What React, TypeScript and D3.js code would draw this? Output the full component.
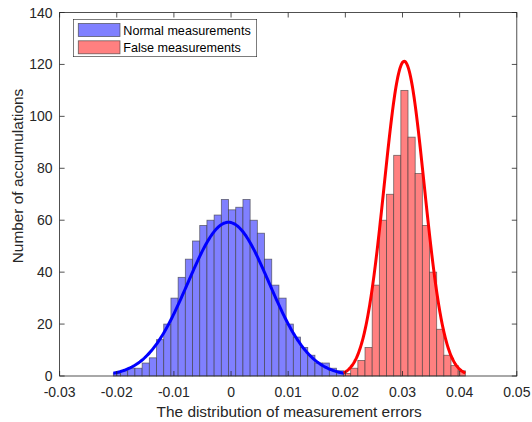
import React from "react";
import * as d3 from "d3";

// ---- data ----
const xTicks = [-0.03, -0.02, -0.01, 0, 0.01, 0.02, 0.03, 0.04, 0.05];
const yTicks = [0, 20, 40, 60, 80, 100, 120, 140];

const blueFirstEdge = -0.0206;
const blueBinWidth = 0.00126;
const blueCounts = [1, 2, 3, 3, 5, 7, 14, 20, 30, 38, 45, 52, 58, 60, 62, 68, 64, 65, 68, 60, 55, 45, 35, 30, 20, 15, 11, 8, 5, 5, 3, 2];

const redFirstEdge = 0.01968;
const redBinWidth = 0.001254;
const redCounts = [1, 3, 6, 11, 35, 60, 70, 85, 110, 92, 78, 58, 40, 18, 8, 4, 2];

// fitted normal curves (mean, std, peak height)
const blueFit = { mu: -0.00045, sigma: 0.0071, peak: 59.2 };
const redFit = { mu: 0.0303, sigma: 0.0035, peak: 121.2 };

const legendLabels = ["Normal measurements", "False measurements"];

// ---- layout ----
const W = 532, H = 422;
const L = 59.6, R = 516.8, T = 12.5, B = 376;
const FONT = "Liberation Sans, Arial, Helvetica, sans-serif";
const AX = "#262626";

export default function App() {
  const x = d3.scaleLinear().domain([-0.03, 0.05]).range([L, R]);
  const y = d3.scaleLinear().domain([0, 140]).range([B, T]);

  const bars = (first: number, w: number, counts: number[], fill: string, key: string) =>
    counts.map((c, i) => {
      const x0 = x(first + i * w);
      const x1 = x(first + (i + 1) * w);
      return (
        <rect key={key + i} x={x0} y={y(c)} width={x1 - x0} height={B - y(c)}
          fill={fill} stroke="#3a3a3a" strokeOpacity={0.7} strokeWidth={0.8} />
      );
    });

  const curve = (fit: { mu: number; sigma: number; peak: number }, a: number, b: number) => {
    const pts = d3.range(0, 201).map((i) => {
      const xv = a + ((b - a) * i) / 200;
      const z = (xv - fit.mu) / fit.sigma;
      return [xv, fit.peak * Math.exp(-0.5 * z * z)] as [number, number];
    });
    return d3.line<[number, number]>().x((d) => x(d[0])).y((d) => y(d[1]))(pts) || "";
  };

  const blueEnd = blueFirstEdge + blueCounts.length * blueBinWidth;
  const redEnd = redFirstEdge + redCounts.length * redBinWidth;

  const tickLen = 5;

  return (
    <div style={{ position: "fixed", left: 0, top: 0 }}>
      <svg width={W} height={H} style={{ display: "block", background: "#fff" }} fontFamily={FONT}>
        <rect x={0} y={0} width={W} height={H} fill="#fff" />
        {bars(blueFirstEdge, blueBinWidth, blueCounts, "#8080ff", "b")}
        {bars(redFirstEdge, redBinWidth, redCounts, "#ff8080", "r")}
        <path d={curve(blueFit, blueFirstEdge, blueEnd)} fill="none" stroke="#0000ff" strokeWidth={3} />
        <path d={curve(redFit, redFirstEdge, redEnd)} fill="none" stroke="#ff0000" strokeWidth={3} />

        {/* axes box */}
        <rect x={L} y={T} width={R - L} height={B - T} fill="none" stroke={AX} strokeWidth={0.8} />
        {xTicks.map((t) => (
          <g key={"xt" + t}>
            <line x1={x(t)} x2={x(t)} y1={B} y2={B - tickLen} stroke={AX} strokeWidth={0.8} />
            <line x1={x(t)} x2={x(t)} y1={T} y2={T + tickLen} stroke={AX} strokeWidth={0.8} />
            <text x={x(t)} y={B + 20.5} textAnchor="middle" fontSize={14} fill={AX}>{String(t)}</text>
          </g>
        ))}
        {yTicks.map((t) => (
          <g key={"yt" + t}>
            <line x1={L} x2={L + tickLen} y1={y(t)} y2={y(t)} stroke={AX} strokeWidth={0.8} />
            <line x1={R} x2={R - tickLen} y1={y(t)} y2={y(t)} stroke={AX} strokeWidth={0.8} />
            <text x={L - 7} y={y(t) + 5} textAnchor="end" fontSize={14} fill={AX}>{String(t)}</text>
          </g>
        ))}
        <text x={(L + R) / 2 + 1} y={417} textAnchor="middle" fontSize={15.4} fill={AX}>
          The distribution of measurement errors
        </text>
        <text transform={`translate(23,176) rotate(-90)`} textAnchor="middle" fontSize={15.4} fill={AX}>
          Number of accumulations
        </text>

        {/* legend */}
        <rect x={73.3} y={19.3} width={183.4} height={37.4} fill="#fff" stroke={AX} strokeWidth={0.6} />
        {legendLabels.map((lab, i) => (
          <g key={lab}>
            <rect x={78.3} y={23.5 + i * 17.3} width={41.7} height={13} fill={i === 0 ? "#8080ff" : "#ff8080"}
              stroke="#3a3a3a" strokeOpacity={0.75} strokeWidth={0.8} />
            <text x={123.3} y={34.8 + i * 17.3} fontSize={12.6} fill="#000">{lab}</text>
          </g>
        ))}
      </svg>
    </div>
  );
}
